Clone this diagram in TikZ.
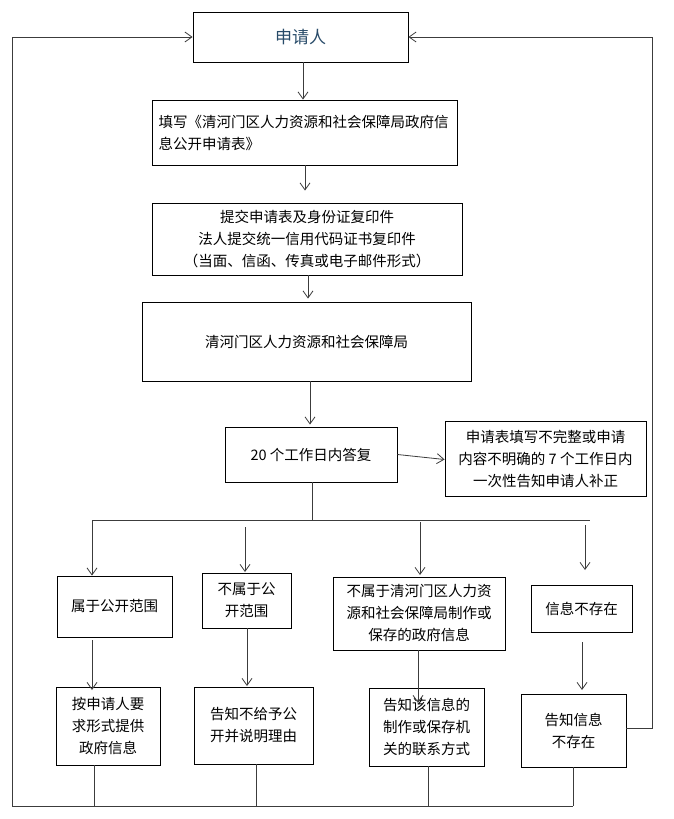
\documentclass[tikz,border=0pt]{standalone}
\usepackage{fontspec}
\setmainfont{Noto Sans CJK SC}
\usetikzlibrary{arrows.meta}
\definecolor{linegray}{RGB}{60,60,60}
\definecolor{titleblue}{RGB}{40,75,105}
\begin{document}
\begin{tikzpicture}[x=1pt,y=-1pt,
  box/.style={draw=black,line width=0.9pt,align=center,inner sep=2pt,
    font=\fontsize{14.5}{22}\selectfont},
  conn/.style={draw=linegray,line width=0.8pt},
  arr/.style={conn,-{Straight Barb[length=7pt,width=10pt,line width=0.8pt]}}]
\useasboundingbox (0,0) rectangle (673,819);
\fill[white] (0,0) rectangle (673,819);
% nodes
\node[box,minimum width=215,minimum height=50,font=\fontsize{17}{20}\selectfont,text=titleblue] (n1) at (300.5,37) {申请人};
\node[box,minimum width=305,minimum height=65,align=left,text width=292] (n2) at (304.5,132.5) {填写《清河门区人力资源和社会保障局政府信\\息公开申请表》};
\node[box,minimum width=310,minimum height=72] (n3) at (307,239) {提交申请表及身份证复印件\\法人提交统一信用代码证书复印件\\（当面、信函、传真或电子邮件形式）};
\node[box,minimum width=329,minimum height=79] (n4) at (306.5,341.5) {清河门区人力资源和社会保障局};
\node[box,minimum width=172,minimum height=55] (n5) at (311,454.5) {20 个工作日内答复};
\node[box,minimum width=201,minimum height=75] (n6) at (545.5,458.5) {申请表填写不完整或申请\\内容不明确的 7 个工作日内\\一次性告知申请人补正};
\node[box,minimum width=115,minimum height=61] (a1) at (114.5,606.5) {属于公开范围};
\node[box,minimum width=89,minimum height=55] (b1) at (246.5,600.5) {不属于公\\开范围};
\node[box,minimum width=172,minimum height=73] (c1) at (419,613.5) {不属于清河门区人力资\\源和社会保障局制作或\\保存的政府信息};
\node[box,minimum width=101,minimum height=47] (d1) at (581.5,608.5) {信息不存在};
\node[box,minimum width=104,minimum height=78] (a2) at (108,726) {按申请人要\\求形式提供\\政府信息};
\node[box,minimum width=119,minimum height=77] (b2) at (253.5,725.5) {告知不给予公\\开并说明理由};
\node[box,minimum width=115,minimum height=78] (c2) at (426.5,727) {告知该信息的\\制作或保存机\\关的联系方式};
\node[box,minimum width=105,minimum height=73] (d2) at (573.5,730.5) {告知信息\\不存在};
% bus coordinates
\coordinate (bt) at (312,520);
\coordinate (bl) at (92,520);
\coordinate (br) at (590,520);
\coordinate (lb) at (12,806);
\coordinate (lt) at (12,37);
\coordinate (rt) at (652,37);
% vertical chain
\draw[arr] ([xshift=2.5]n1.south) -- ([xshift=2.5]n1.south |- n2.north);
\draw[arr,shorten >=12pt] ([xshift=0.5]n2.south) -- ([xshift=0.5]n2.south |- n3.north);
\draw[arr,shorten >=3pt] ([xshift=1]n3.south) -- ([xshift=1]n3.south |- n4.north);
\draw[arr,shorten >=2pt] ([xshift=3.5]n4.south) -- ([xshift=3.5]n4.south |- n5.north);
\draw[arr] (n5.east) -- ([yshift=-1]n6.west);
% bus
\draw[conn] (n5.south -| bt) -- (bt);
\draw[conn] (bl) -- (br);
\draw[arr] (bl) -- (bl |- a1.north);
\draw[arr] (245,527) -- (245,572);
\draw[arr] (420,522) -- (420,575);
\draw[arr] (585,525) -- (585,570);
% second row arrows
\draw[arr,shorten >=-3pt] (92,640) -- (92,687);
\draw[arr] (247,628) -- (247,686);
\draw[arr,shorten >=-14pt] (418,650) -- (418,689);
\draw[arr,shorten >=4pt] (582,642) -- (582,694);
% bottom lines
\draw[conn] (94,765) -- (94,806);
\draw[conn] (256,764) -- (256,806);
\draw[conn] (428,766) -- (428,806);
\draw[conn] (573,767) -- (573,806);
\draw[conn] (lb) -- (573,806);
% return lines
\draw[arr] (lb) -- (lt) -- (n1.west);
\draw[arr] (d2.east |- 0,728) -- (652,728) -- (rt) -- (n1.east);
\end{tikzpicture}
\end{document}
